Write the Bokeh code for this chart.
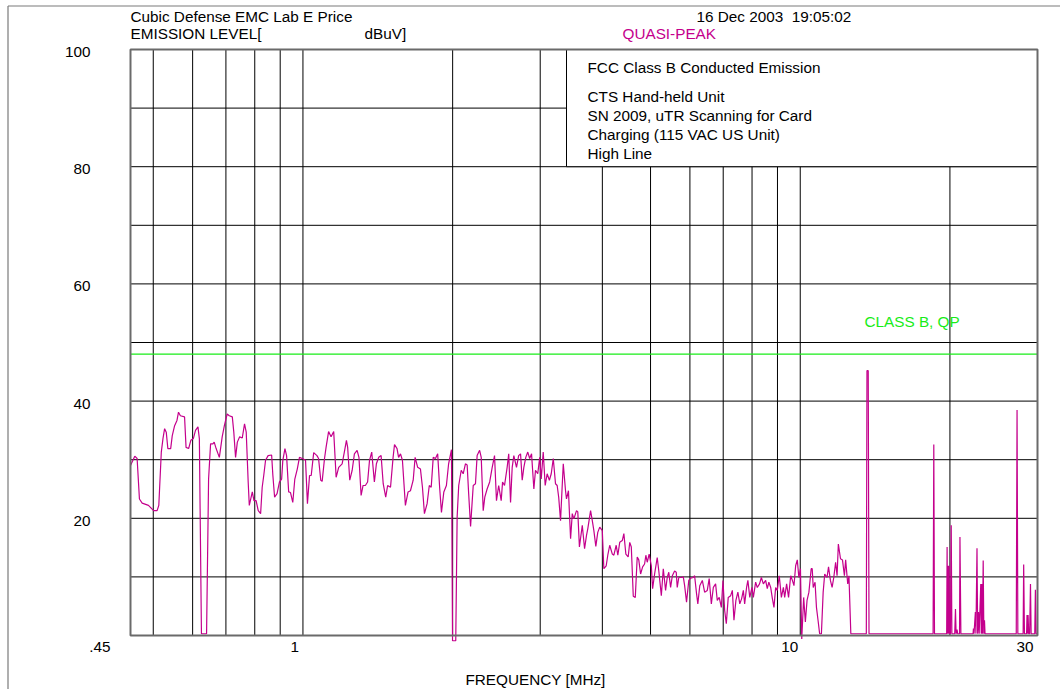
import math
from bokeh.plotting import figure
from bokeh.models import Range1d, BoxAnnotation, Label
from bokeh.embed import file_html
from bokeh.resources import INLINE

# ---------------- data ----------------
freq_mhz = [
    0.450, 0.459, 0.464, 0.469, 0.475, 0.489, 0.501, 0.509, 0.513, 0.519, 0.523, 0.527, 0.531, 0.535,
    0.542, 0.546, 0.552, 0.558, 0.562, 0.567, 0.578, 0.582, 0.589, 0.595, 0.602, 0.608, 0.615, 0.619,
    0.625, 0.640, 0.646, 0.652, 0.659, 0.663, 0.669, 0.675, 0.679, 0.688, 0.695, 0.704, 0.711, 0.721,
    0.726, 0.732, 0.738, 0.746, 0.755, 0.763, 0.769, 0.776, 0.780, 0.791, 0.797, 0.805, 0.813, 0.822,
    0.828, 0.834, 0.841, 0.851, 0.865, 0.870, 0.877, 0.887, 0.897, 0.906, 0.911, 0.920, 0.927, 0.936,
    0.944, 0.954, 0.963, 0.974, 0.984, 0.997, 1.012, 1.021, 1.031, 1.039, 1.051, 1.067, 1.075, 1.086,
    1.093, 1.105, 1.113, 1.126, 1.139, 1.153, 1.166, 1.180, 1.199, 1.213,
    1.223, 1.230, 1.242, 1.256, 1.269, 1.285, 1.296, 1.309, 1.321, 1.335, 1.349, 1.361, 1.375, 1.392,
    1.405, 1.420, 1.436, 1.450, 1.467, 1.480, 1.500, 1.518, 1.528, 1.546, 1.557, 1.571, 1.585, 1.607,
    1.627, 1.645, 1.666, 1.681, 1.701, 1.723, 1.739, 1.755, 1.777, 1.795, 1.811, 1.828, 1.847, 1.866,
    1.883, 1.899, 1.920, 1.943, 1.963, 1.989, 1.999, 2.029, 2.042, 2.057, 2.081, 2.100, 2.122, 2.139,
    2.154, 2.173, 2.200, 2.223, 2.240, 2.266, 2.283, 2.304, 2.321, 2.346, 2.374, 2.402, 2.428, 2.450,
    2.475, 2.504, 2.520, 2.543, 2.574, 2.593, 2.615, 2.635, 2.655, 2.688, 2.715, 2.739, 2.760, 2.781,
    2.806, 2.832, 2.857, 2.882, 2.913, 2.935, 2.966, 2.993, 3.014, 3.042, 3.070, 3.098, 3.130, 3.157,
    3.187, 3.220, 3.245, 3.268, 3.296,
    3.338, 3.373, 3.388, 3.419, 3.453, 3.480, 3.506, 3.549, 3.570, 3.597, 3.645, 3.684, 3.717, 3.739,
    3.788, 3.818, 3.846, 3.881, 3.916, 3.952, 3.999, 4.028, 4.072, 4.102, 4.139, 4.189, 4.219, 4.265,
    4.297, 4.335, 4.387, 4.419, 4.460, 4.508, 4.541, 4.574, 4.616, 4.659, 4.701, 4.735, 4.775, 4.820,
    4.864, 4.893, 4.924, 4.968, 5.018, 5.048, 5.095, 5.157, 5.194, 5.256, 5.304, 5.361, 5.402, 5.441,
    5.487, 5.531, 5.589, 5.632, 5.658, 5.699, 5.766, 5.819, 5.855, 5.907, 5.969, 6.020, 6.095, 6.132,
    6.188, 6.224, 6.280, 6.355, 6.423, 6.502, 6.560, 6.626, 6.687, 6.758, 6.810, 6.872, 6.940, 6.992,
    7.047, 7.101, 7.165, 7.246, 7.303, 7.357, 7.424, 7.492, 7.559, 7.624, 7.684, 7.731, 7.800, 7.847,
    7.917, 7.997, 8.049, 8.134, 8.197, 8.282, 8.353, 8.430, 8.520, 8.585, 8.647, 8.721, 8.790, 8.855,
    8.924, 8.992, 9.074, 9.164, 9.249, 9.305, 9.389, 9.474, 9.568, 9.643, 9.714, 9.790, 9.865, 9.936,
    10.01, 10.07, 10.16, 10.24, 10.32, 10.41, 10.52, 10.57, 10.62, 10.71, 10.78, 10.87, 10.94, 11.03,
    11.12, 11.20, 11.32, 11.40, 11.50, 11.59, 11.68, 11.78, 11.86, 11.93, 12.05, 12.16, 12.27, 12.34,
    12.46, 12.53, 12.64,
    13.58, 13.62, 13.70, 13.75, 18.50, 18.56, 18.62, 19.70, 19.74, 19.78, 19.83, 19.87, 19.92, 19.97,
    20.05, 20.12, 20.18, 20.45, 20.52, 20.58, 20.67, 20.73, 20.91, 20.95, 21.04, 22.26, 22.30, 22.36,
    22.50, 22.56, 22.67, 22.74, 22.83, 22.90, 23.07, 23.12, 23.18, 23.25, 23.33, 23.40, 23.47, 23.53,
    27.19, 27.29, 27.39, 28.07, 28.14, 28.24, 28.52, 28.58, 28.65, 28.72, 28.80, 28.93, 29.04, 29.13,
    29.62, 29.71, 29.80, 30.00,
]
level_dbuv = [
    29.0, 30.6, 30.2, 23.3, 22.6, 22.2, 21.3, 21.3, 22.2, 31.3, 33.6, 35.3, 34.7, 31.9,
    31.9, 34.1, 35.8, 36.7, 38.1, 37.5, 37.3, 32.1, 31.9, 33.3, 33.6, 35.0, 35.6, 33.6,
    0.3, 0.3, 26.7, 32.7, 32.7, 33.0, 31.9, 31.0, 30.4, 33.9, 35.8, 37.8, 37.5, 37.3,
    34.7, 30.4, 33.0, 33.9, 33.7, 36.1, 34.7, 26.2, 22.2, 24.5, 23.0, 23.0, 21.3, 20.8,
    25.3, 27.3, 29.9, 30.7, 30.8, 27.3, 23.6, 24.2, 26.2, 26.7, 29.9, 31.9, 30.7, 24.5,
    24.4, 22.7, 26.7, 28.4, 30.4, 30.2, 29.9, 22.5, 27.3, 27.3, 31.2, 30.7, 30.2, 26.5,
    26.3, 30.2, 32.1, 34.8, 33.9, 34.8, 27.0, 28.7, 29.3, 31.6,
    33.3, 32.1, 26.5, 28.2, 31.0, 31.6, 30.4, 23.9, 25.6, 25.6, 26.2, 29.9, 31.3, 26.2,
    29.3, 30.4, 30.7, 25.9, 23.6, 25.6, 25.3, 30.4, 32.6, 31.9, 30.4, 31.0, 29.9, 22.2,
    24.5, 24.7, 26.5, 30.4, 28.7, 28.4, 25.3, 20.8, 22.5, 25.6, 25.3, 30.4, 30.2, 31.0,
    25.3, 21.0, 24.5, 25.6, 29.3, 31.7, -0.9, -0.9, 20.2, 25.6, 28.2, 27.6, 29.3, 29.1,
    24.2, 18.6, 25.6, 25.9, 30.7, 31.6, 30.4, 21.3, 23.6, 25.0, 26.2, 28.7, 30.7, 23.0,
    25.6, 23.0, 26.2, 25.6, 28.7, 31.0, 22.7, 28.7, 30.7, 28.7, 30.7, 31.0, 26.5, 28.7,
    30.4, 31.3, 30.2, 31.0, 25.0, 28.2, 27.6, 30.4, 26.7, 31.3, 25.6, 27.6, 26.5, 27.6,
    30.2, 25.9, 25.6, 23.6, 19.6,
    29.3, 24.7, 23.3, 24.7, 16.5, 20.8, 19.9, 21.3, 21.1, 15.1, 18.8, 14.8, 17.1, 18.2,
    21.3, 19.6, 17.9, 15.2, 17.6, 18.5, 17.9, 11.4, 11.9, 13.7, 15.4, 13.9, 13.7, 15.4,
    13.7, 15.9, 16.2, 17.4, 13.9, 13.4, 15.9, 15.1, 6.7, 6.5, 13.4, 12.9, 10.5, 11.7,
    12.2, 13.7, 12.5, 13.9, 11.9, 8.0, 10.5, 13.3, 11.1, 6.8, 11.4, 7.7, 9.9, 10.8,
    8.2, 10.2, 11.0, 10.8, 8.2, 9.9, 9.9, 10.0, 8.5, 5.7, 9.4, 9.8, 9.9, 10.2,
    7.1, 5.4, 8.5, 9.4, 7.4, 7.7, 9.7, 5.4, 8.2, 8.8, 6.0, 6.5, 4.8, 9.4,
    4.3, 2.0, 6.5, 6.8, 7.7, 2.6, 6.0, 7.4, 5.4, 6.3, 7.7, 5.4, 8.2, 9.4,
    6.5, 8.2, 6.5, 9.1, 8.2, 8.8, 9.9, 8.8, 9.4, 8.0, 9.1, 8.2, 6.3, 4.8,
    8.2, 7.7, 10.2, 6.5, 8.2, 6.5, 8.8, 6.5, 10.2, 9.4, 8.5, 11.9, 12.9, 9.9,
    11.4, -0.6, 6.5, 2.3, 6.0, 7.4, 11.4, 11.4, 8.2, 9.1, 4.8, 2.3, 0.3, 0.3,
    7.4, 10.5, 9.9, 11.7, 9.4, 8.2, 9.9, 12.5, 10.2, 15.6, 13.1, 12.9, 10.2, 12.9,
    8.8, 10.2, 0.3,
    0.3, 45.2, 45.2, 0.3, 0.3, 32.6, 0.3, 0.3, 15.1, 0.3, 11.9, 0.3, 11.9, 0.3,
    0.3, 18.8, 0.3, 0.3, 4.5, 0.3, 1.0, 0.3, 0.3, 16.8, 0.3, 0.3, 1.2, 0.3,
    4.0, 0.3, 14.9, 0.3, 4.0, 0.3, 8.8, 0.3, 8.8, 0.3, 12.8, 0.3, 2.6, 0.3,
    0.3, 38.5, 0.3, 0.3, 12.1, 0.3, 0.3, 3.5, 0.3, 3.5, 0.3, 0.3, 8.8, 0.3,
    0.3, 7.8, 0.3, 0.3,
]
limit_class_b_qp = 48.0

x_min_mhz, x_max_mhz = 0.45, 30.0
y_min_db, y_max_db = 0.0, 100.0
x_grid_mhz = [0.5, 0.6, 0.7, 0.8, 0.9, 1, 2, 3, 4, 5, 6, 7, 8, 9, 10, 20]
y_grid_db = [10, 20, 30, 40, 50, 60, 70, 80, 90]
y_tick_values = [100, 80, 60, 40, 20]
x_tick_values = [0.45, 1, 10, 30]
x_tick_labels = [".45", "1", "10", "30"]

header_left_1 = "Cubic Defense EMC Lab  E Price"
header_left_2 = "EMISSION LEVEL["
header_unit = "dBuV]"
header_date = "16 Dec 2003\u00a0\u00a019:05:02"
header_mode = "QUASI-PEAK"
box_lines = ["FCC Class B Conducted Emission", "CTS Hand-held Unit",
             "SN 2009, uTR Scanning for Card", "Charging (115 VAC US Unit)", "High Line"]
limit_label = "CLASS B, QP"
x_title = "FREQUENCY [MHz]"

# ---------------- layout (pixels) ----------------
W, H = 1060, 689
PL, PR, PT, PB = 130, 1037, 49, 635          # chart area inside the canvas
dec_px = (PR - PL) / (math.log10(x_max_mhz) - math.log10(x_min_mhz))
db_px = (PB - PT) / (y_max_db - y_min_db)


def xd(px):   # canvas pixel -> frequency
    return 10 ** (math.log10(x_min_mhz) + (px - PL) / dec_px)


def yd(py):   # canvas pixel -> dB
    return y_min_db + (PB - py) / db_px


MAGENTA = "#C4008C"
GREEN = "#18EC18"
FONT = "Liberation Sans"
FS = "15.3px"

p = figure(width=W, height=H, x_axis_type="log",
           x_range=Range1d(xd(0), xd(W)), y_range=Range1d(yd(H), yd(0)),
           output_backend="svg", toolbar_location=None)
p.min_border = 0
p.xaxis.visible = False
p.yaxis.visible = False
p.xgrid.visible = False
p.ygrid.visible = False
p.background_fill_color = "white"
p.border_fill_color = "white"
p.outline_line_color = None

# page border (left and top)
p.segment(x0=[xd(7.5), xd(7.5)], y0=[yd(H), yd(5.5)], x1=[xd(7.5), xd(W)], y1=[yd(5.5), yd(5.5)],
          line_color="#7a7a7a", line_width=1.2)

# grid lines, limited to the chart area
p.segment(x0=x_grid_mhz, x1=x_grid_mhz, y0=[y_min_db] * len(x_grid_mhz), y1=[y_max_db] * len(x_grid_mhz),
          line_color="black", line_width=1)
p.segment(x0=[x_min_mhz] * len(y_grid_db), x1=[x_max_mhz] * len(y_grid_db), y0=y_grid_db, y1=y_grid_db,
          line_color="black", line_width=1)

p.line(freq_mhz, level_dbuv, line_color=MAGENTA, line_width=1.2)

p.segment(x0=[x_min_mhz], y0=[limit_class_b_qp], x1=[x_max_mhz], y1=[limit_class_b_qp],
          line_color=GREEN, line_width=1.3)

# text box (white, covers the grid)
p.add_layout(BoxAnnotation(left=xd(566), right=x_max_mhz, bottom=80, top=y_max_db,
                           fill_color="white", fill_alpha=1.0,
                           line_color="black", line_width=1, line_alpha=1.0))
# chart frame
p.add_layout(BoxAnnotation(left=x_min_mhz, right=x_max_mhz, bottom=y_min_db, top=y_max_db,
                           fill_color=None, fill_alpha=0.0,
                           line_color="#6a6a6a", line_width=2, line_alpha=1.0))


def lab(x, y, text, xo=0, yo=0, align="left", color="black"):
    p.add_layout(Label(x=x, y=y, x_offset=xo, y_offset=yo, text=text,
                       text_font=FONT, text_font_size=FS, text_color=color,
                       text_align=align, text_baseline="middle"))


# headers
lab(x_min_mhz, y_max_db, header_left_1, yo=33)
lab(x_min_mhz, y_max_db, header_left_2, yo=16)
lab(xd(364), y_max_db, header_unit, yo=16)
lab(xd(696), y_max_db, header_date, yo=33)
lab(xd(622), y_max_db, header_mode, yo=16, color=MAGENTA)

# text box lines
for txt, yo in zip(box_lines, [-18, -47, -66, -85, -104]):
    lab(xd(587), y_max_db, txt, yo=yo)

# limit label
lab(xd(864), limit_class_b_qp, limit_label, yo=33, color=GREEN)

# y tick labels
for v in y_tick_values:
    lab(x_min_mhz, v, str(v), xo=-40, yo=-2.5, align="right")

# x tick labels
for v, t, xo in zip(x_tick_values, x_tick_labels, [-20, -4, -2, -4]):
    lab(v, y_min_db, t, xo=xo, yo=-11.5, align="right")

lab(xd(535), y_min_db, x_title, yo=-43.5, align="center")

open("out.html", "w").write(file_html(p, INLINE))
